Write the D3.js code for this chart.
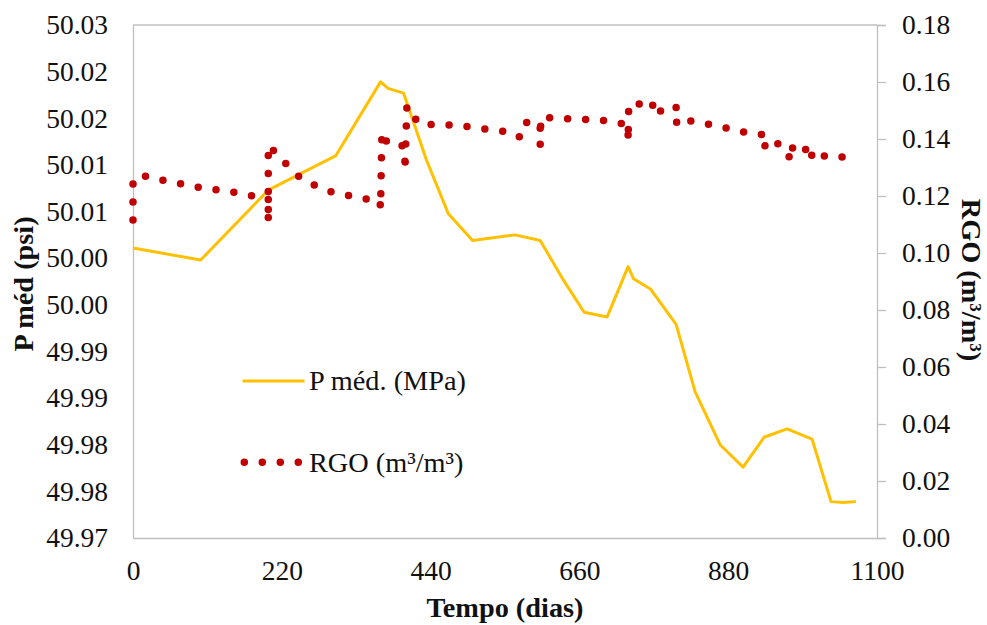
<!DOCTYPE html>
<html>
<head>
<meta charset="utf-8">
<script src="https://cdn.jsdelivr.net/npm/d3@7"></script>
<style>
  html, body { margin: 0; padding: 0; background: #fff; }
  svg text { font-family: "Liberation Serif", "Tinos", "Times New Roman", "DejaVu Serif", serif; fill: #111; }
</style>
</head>
<body>
<svg id="chart" width="987" height="625"></svg>
<script>
// Average pressure over time (left axis)
const pDays = [0, 100, 200, 300, 366, 377, 400, 434, 466, 502, 565, 602, 636, 667, 701, 732, 740, 765, 803, 831, 868, 902, 933, 967, 1004, 1032, 1050, 1069];
const pVals = [50.0036, 50.0023, 50.0098, 50.0135, 50.0214, 50.0207, 50.0202, 50.0130, 50.0073, 50.0044, 50.0050, 50.0044, 50.0002, 49.9967, 49.9962, 50.0016, 50.0003, 49.9992, 49.9954, 49.9882, 49.9825, 49.9801, 49.9833, 49.9842, 49.9831, 49.9764, 49.9763, 49.9764];

// Gas-oil ratio over time (right axis)
const rgoDays = [0, 0, 21, 47, 100, 153, 179, 200, 200, 200, 227, 246, 269, 295, 347, 365, 366, 368, 377, 402, 402, 405, 423, 476, 503, 556, 571, 578, 602, 602, 603, 639, 692, 718, 732, 732, 733, 748, 769, 767, 795, 803, 803, 806, 832, 859, 911, 939, 933, 964, 979, 966, 1000, 1009, 1001, 1033, 1060];
const rgoVals = [0.1116, 0.1261, 0.1270, 0.1254, 0.1229, 0.1212, 0.1199, 0.1191, 0.1107, 0.1379, 0.1311, 0.1267, 0.1237, 0.1213, 0.1188, 0.1184, 0.1157, 0.1425, 0.1381, 0.1375, 0.1289, 0.1516, 0.1452, 0.1449, 0.1441, 0.1424, 0.1407, 0.1459, 0.1453, 0.1378, 0.1477, 0.1471, 0.1467, 0.1455, 0.1453, 0.1392, 0.1523, 0.1523, 0.1532, 0.1488, 0.1510, 0.1516, 0.1453, 0.1475, 0.1459, 0.1449, 0.1420, 0.1414, 0.1365, 0.1393, 0.1360, 0.1334, 0.1369, 0.1367, 0.1332, 0.1344, 0.1332];

// Axis ticks
const xTicks = [0, 220, 440, 660, 880, 1100];
const leftTicks = [49.9725, 49.9775, 49.9825, 49.9875, 49.9925, 49.9975, 50.0025, 50.0075, 50.0125, 50.0175, 50.0225, 50.0275];
const rightTicks = [0, 0.02, 0.04, 0.06, 0.08, 0.10, 0.12, 0.14, 0.16, 0.18];

const pLabel = "P méd. (MPa)";
const rgoLabel = "RGO (m³/m³)";

const svg = d3.select("#chart");
const L = 133, R = 877, T = 25, B = 538;
const axisColor = "#BFBFBF";
const tickFont = 27.5;
const titleFont = 28.3;
const serif = '"Liberation Serif", "Tinos", "Times New Roman", "DejaVu Serif", serif';

const x = d3.scaleLinear().domain([0, 1100]).range([L, R]);
const yL = d3.scaleLinear().domain([49.9725, 50.0275]).range([B, T]);
const yR = d3.scaleLinear().domain([0, 0.18]).range([B, T]);

// Frame: top border
svg.append("line").attr("x1", L).attr("x2", R).attr("y1", T).attr("y2", T)
  .attr("stroke", axisColor).attr("stroke-width", 1.3);

// Left axis (labels only)
const gL = svg.append("g").attr("transform", `translate(${L},0)`)
  .call(d3.axisLeft(yL).tickValues(leftTicks).tickSize(0).tickPadding(25)
    .tickFormat(d => d3.format(".2f")(d)));
gL.select(".domain").attr("stroke", axisColor).attr("stroke-width", 1.3);

// Bottom axis (labels only)
const gB = svg.append("g").attr("transform", `translate(0,${B})`)
  .call(d3.axisBottom(x).tickValues(xTicks).tickSize(0).tickPadding(22)
    .tickFormat(d3.format("d")));
gB.select(".domain").attr("stroke", axisColor).attr("stroke-width", 1.3);

// Right axis with outward ticks
const gR = svg.append("g").attr("transform", `translate(${R},0)`)
  .call(d3.axisRight(yR).tickValues(rightTicks).tickSize(9).tickPadding(16)
    .tickFormat(d3.format(".2f")));
gR.select(".domain").attr("stroke", axisColor).attr("stroke-width", 1.3);
gR.selectAll(".tick line").attr("stroke", axisColor).attr("stroke-width", 1.3);

svg.selectAll("g").attr("font-family", serif);
svg.selectAll(".tick text")
  .style("font-family", serif)
  .attr("font-size", tickFont)
  .attr("fill", "#111");

// Axis titles
svg.append("text")
  .attr("transform", "translate(33,284) rotate(-90)")
  .attr("text-anchor", "middle")
  .attr("font-size", titleFont).attr("font-weight", "bold")
  .text("P méd (psi)");

svg.append("text")
  .attr("transform", "translate(962,280) rotate(90)")
  .attr("text-anchor", "middle")
  .attr("font-size", titleFont).attr("font-weight", "bold")
  .text("RGO (m³/m³)");

svg.append("text")
  .attr("x", (L + R) / 2).attr("y", 617)
  .attr("text-anchor", "middle")
  .attr("font-size", titleFont).attr("font-weight", "bold")
  .text("Tempo (dias)");

// Pressure line
const pData = pDays.map((d, i) => [d, pVals[i]]);
svg.append("path")
  .datum(pData)
  .attr("fill", "none")
  .attr("stroke", "#FFC000")
  .attr("stroke-width", 3)
  .attr("stroke-linejoin", "round")
  .attr("d", d3.line().x(d => x(d[0])).y(d => yL(d[1])));

// GOR as a round-dot line
const rgoData = rgoDays.map((d, i) => [d, rgoVals[i]]);
const dotStyle = sel => sel
  .attr("fill", "none")
  .attr("stroke", "#C00000")
  .attr("stroke-width", 7.5)
  .attr("stroke-linecap", "round")
  .attr("stroke-linejoin", "round")
  .attr("stroke-dasharray", "0 18");

svg.append("path")
  .datum(rgoData)
  .call(dotStyle)
  .attr("d", d3.line().x(d => x(d[0])).y(d => yR(d[1])));

// Legend
const legend = svg.append("g");
legend.append("line")
  .attr("x1", 242.5).attr("x2", 304.5).attr("y1", 381).attr("y2", 381)
  .attr("stroke", "#FFC000").attr("stroke-width", 3);
legend.append("text")
  .attr("x", 309).attr("y", 390)
  .attr("font-size", titleFont)
  .text(pLabel);

legend.append("path")
  .call(dotStyle)
  .attr("d", "M244.3,462.3H299");
legend.append("text")
  .attr("x", 309).attr("y", 472)
  .attr("font-size", titleFont)
  .text(rgoLabel);
</script>
</body>
</html>
